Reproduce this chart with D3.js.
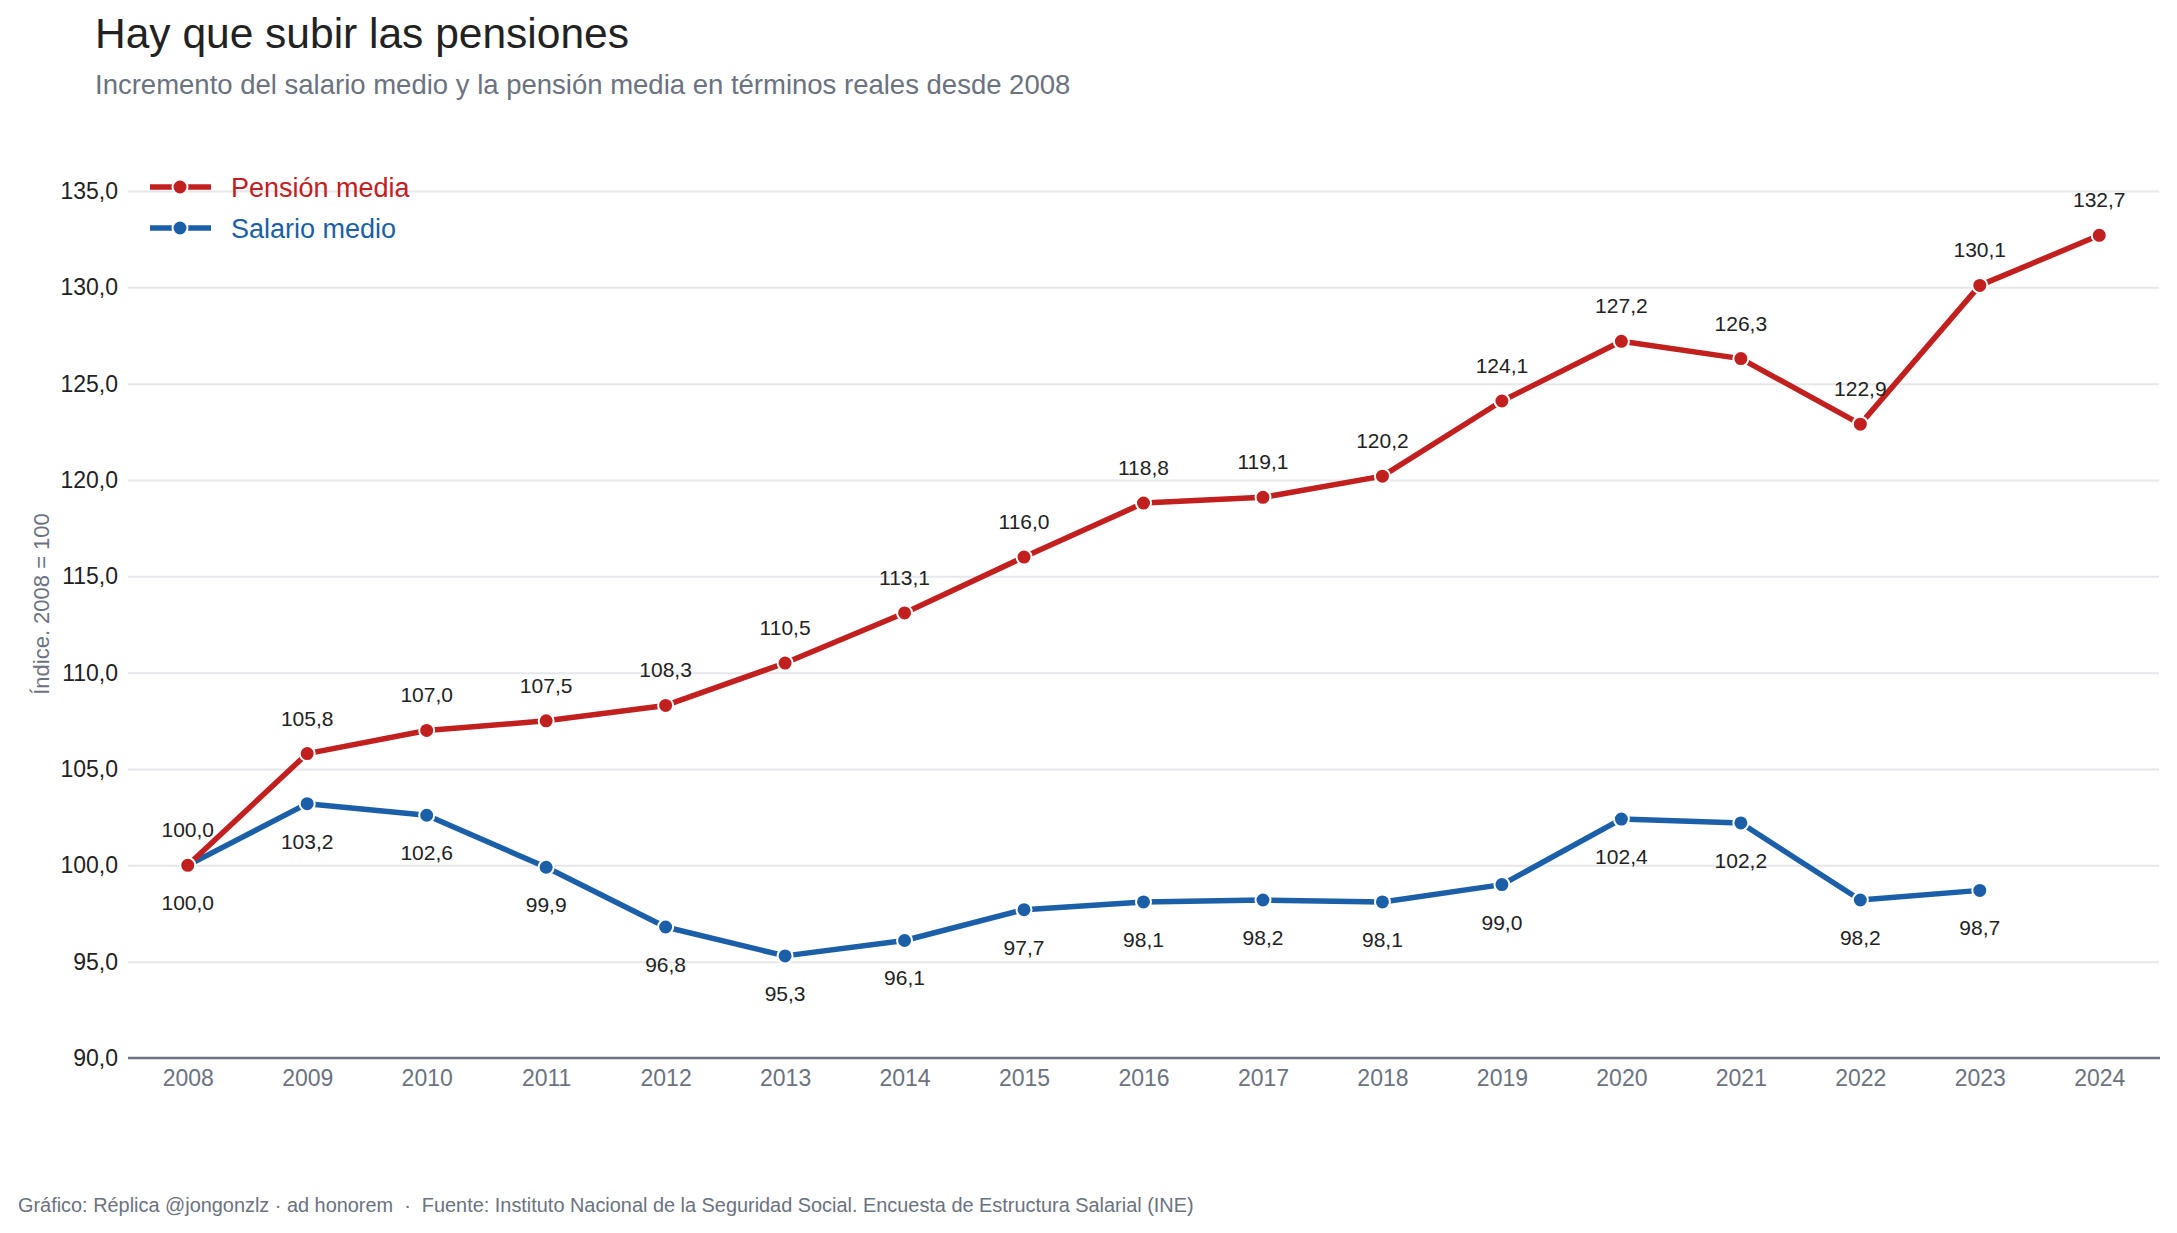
<!DOCTYPE html>
<html lang="es">
<head>
<meta charset="UTF-8">
<title>Hay que subir las pensiones</title>
<style>
    body { margin: 0; background: #fff; font-family: "Liberation Sans", Arial, sans-serif; }
    .grid line { stroke: #e5e7eb; stroke-width: 2; }
    .grid path { display: none; }
    .ytick text { fill: #222; font-size: 23px; }
    .xtick text { fill: #6b7280; font-size: 23px; }
    .xtick line, .ytick line { display: none; }
    .xtick path, .ytick path { display: none; }
    .lbl { font-size: 21px; fill: #222; text-anchor: middle; }
</style>
</head>
<body>
<svg width="2177" height="1233"></svg>
<script src="https://d3js.org/d3.v7.min.js"></script>
<script>
var years = [2008, 2009, 2010, 2011, 2012, 2013, 2014, 2015, 2016, 2017, 2018, 2019, 2020, 2021, 2022, 2023, 2024];
var pension = [100.0, 105.8, 107.0, 107.5, 108.3, 110.5, 113.1, 116.0, 118.8, 119.1, 120.2, 124.1, 127.2, 126.3, 122.9, 130.1, 132.7];
var salario = [100.0, 103.2, 102.6, 99.9, 96.8, 95.3, 96.1, 97.7, 98.1, 98.2, 98.1, 99.0, 102.4, 102.2, 98.2, 98.7];
var yTicks = [90, 95, 100, 105, 110, 115, 120, 125, 130, 135];

var series = [
    {name: "Pensión media", values: pension, color: "#c1201f", dy: -28},
    {name: "Salario medio", values: salario, color: "#1b5fa8", dy: 45}
];

var svg = d3.select("svg"),
    pLeft = 128, pRight = 2159, pTop = 191, pBottom = 1058;

var fmt = function(v){ return d3.format(".1f")(v).replace(".", ","); };

var x = d3.scalePoint().domain(years).range([pLeft, pRight]).padding(0.5);
var y = d3.scaleLinear().domain([90, 135]).range([pBottom, pTop]);

// title
svg.append("text").attr("x", 95).attr("y", 48)
    .style("font-size", "42.5px").style("fill", "#222")
    .text("Hay que subir las pensiones");
svg.append("text").attr("x", 95).attr("y", 94)
    .style("font-size", "27.5px").style("fill", "#6b7280")
    .text("Incremento del salario medio y la pensión media en términos reales desde 2008");

// grid
svg.append("g").attr("class", "grid")
    .attr("transform", "translate(" + pLeft + ",0)")
    .call(d3.axisLeft(y).tickValues(yTicks.slice(1)).tickSize(-(pRight - pLeft)).tickFormat(""));

// y axis labels
svg.append("g").attr("class", "ytick")
    .attr("transform", "translate(" + pLeft + ",0)")
    .call(d3.axisLeft(y).tickValues(yTicks).tickSize(0).tickPadding(10).tickFormat(fmt));

// x axis
var xa = svg.append("g").attr("class", "xtick")
    .attr("transform", "translate(0," + pBottom + ")")
    .call(d3.axisBottom(x).tickSize(0).tickPadding(16));
xa.selectAll("text").attr("dy", "0.5em");
svg.append("line")
    .attr("x1", pLeft).attr("x2", pRight + 1)
    .attr("y1", pBottom).attr("y2", pBottom)
    .attr("stroke", "#6b7280").attr("stroke-width", 2.5);

// y title
svg.append("text")
    .attr("transform", "translate(49,604) rotate(-90)")
    .attr("text-anchor", "middle")
    .style("font-size", "22px").style("fill", "#6b7280")
    .text("Índice. 2008 = 100");

var line = d3.line()
    .x(function(d, i){ return x(years[i]); })
    .y(function(d){ return y(d); });

series.slice().reverse().forEach(function(s){
    var g = svg.append("g");
    g.append("path")
        .datum(s.values)
        .attr("fill", "none")
        .attr("stroke", s.color)
        .attr("stroke-width", 5.5)
        .attr("stroke-linejoin", "round")
        .attr("d", line);
    g.selectAll("circle")
        .data(s.values)
        .enter().append("circle")
        .attr("cx", function(d, i){ return x(years[i]); })
        .attr("cy", function(d){ return y(d); })
        .attr("r", 7.5)
        .attr("fill", s.color)
        .attr("stroke", "#fff")
        .attr("stroke-width", 2);
});

series.forEach(function(s){
    svg.selectAll(null)
        .data(s.values)
        .enter().append("text")
        .attr("class", "lbl")
        .attr("x", function(d, i){ return x(years[i]); })
        .attr("y", function(d){ return y(d) + s.dy; })
        .text(fmt);
});

// legend
var legend = svg.selectAll(".legend")
    .data(series)
    .enter().append("g")
    .attr("class", "legend")
    .attr("transform", function(d, i){ return "translate(150," + (187 + i * 41) + ")"; });
legend.append("line")
    .attr("x1", 0).attr("x2", 61)
    .attr("stroke", function(d){ return d.color; })
    .attr("stroke-width", 5.5);
legend.append("circle")
    .attr("cx", 30).attr("r", 7.5)
    .attr("fill", function(d){ return d.color; })
    .attr("stroke", "#fff").attr("stroke-width", 2);
legend.append("text")
    .attr("x", 81).attr("dy", "0.36em")
    .style("font-size", "27px")
    .style("fill", function(d){ return d.color; })
    .text(function(d){ return d.name; });

// footer
svg.append("text").attr("x", 18).attr("y", 1212)
    .style("font-size", "19.9px").style("fill", "#6b7280")
    .attr("xml:space", "preserve")
    .text("Gráfico: Réplica @jongonzlz · ad honorem  ·  Fuente: Instituto Nacional de la Seguridad Social. Encuesta de Estructura Salarial (INE)");
</script>
</body>
</html>
